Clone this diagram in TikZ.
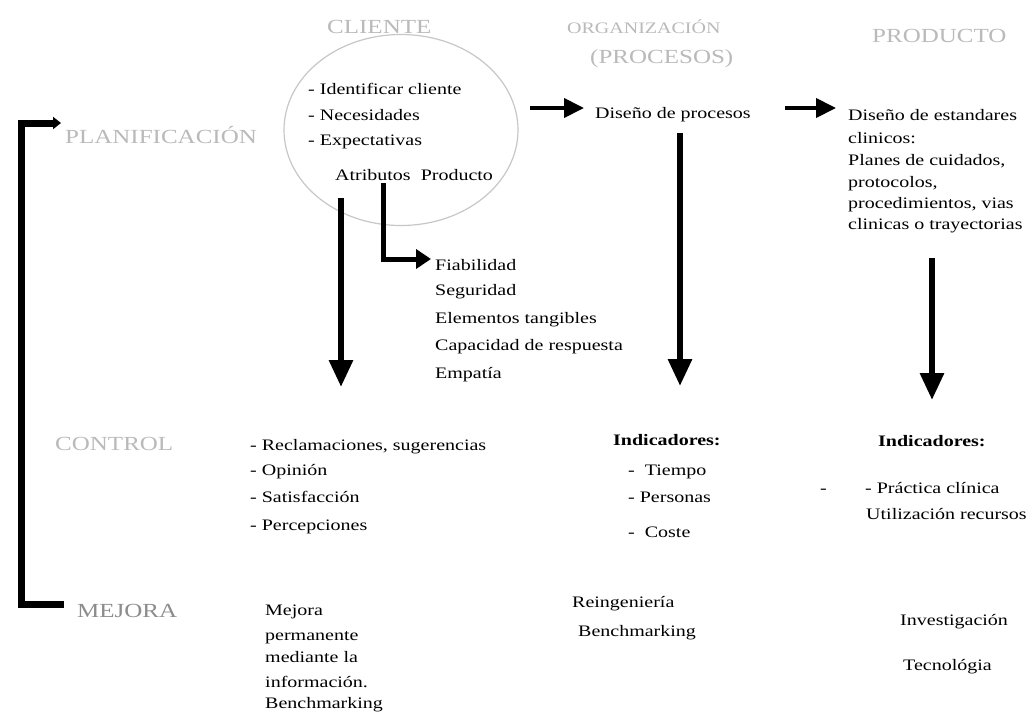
\documentclass[tikz,border=0pt]{standalone}
\usepackage{fontspec}
\setmainfont{Liberation Serif}[FakeStretch=1.25]
\usetikzlibrary{arrows.meta,shapes.geometric}
\tikzset{
  body/.style={anchor=base west, inner sep=0pt, font=\fontsize{16}{19}\selectfont, text=black},
  ttl/.style={anchor=base west, inner sep=0pt, font=\fontsize{20}{24}\selectfont, text=black!27},
  ttlsmall/.style={anchor=base west, inner sep=0pt, font=\fontsize{16}{19}\selectfont, text=black!27},
  bigarrow/.style={line width=6pt, -{Triangle[width=23pt,length=27pt]}},
  midarrow/.style={line width=5pt, -{Triangle[width=19pt,length=15pt]}},
  smallarrow/.style={line width=4pt, -{Triangle[width=19pt,length=20pt]}},
  bracket/.style={line width=7pt, line join=miter, -{Triangle[width=12pt,length=8pt]}},
}
\begin{document}
\begin{tikzpicture}[x=1pt,y=-1pt]
\fill[white] (0,0) rectangle (1036,713);
\useasboundingbox (0,0) rectangle (1036,713);

% ---- titles ----
\node[ttl] (tcli) at (327,33) {CLIENTE};
\node[ttlsmall] (torg) at (567,33) {ORGANIZACIÓN};
\node[ttl] (tproc) at (590,63) {(PROCESOS)};
\node[ttl] (tprod) at (872,42) {PRODUCTO};
\node[ttl] (tplan) at (65,143) {PLANIFICACIÓN};
\node[ttl] (tcon) at (55,450) {CONTROL};
\node[ttl, text=black!45] (tmej) at (77,617) {MEJORA};

% ---- cliente ellipse ----
\node[ellipse, draw=black!22, line width=1.2pt, minimum width=234pt, minimum height=191pt, inner sep=0pt] (cli) at (401,130) {};
\node[body] (c1) at (308,94) {- Identificar cliente};
\node[body] (c2) at (308,120) {- Necesidades};
\node[body] (c3) at (308,145) {- Expectativas};
\node[body] (c4) at (335,180) {Atributos\ \ Producto};

% ---- atributos list ----
\node[body] (f1) at (435,270) {Fiabilidad};
\node[body] (f2) at (435,295) {Seguridad};
\node[body] (f3) at (435,323) {Elementos tangibles};
\node[body] (f4) at (435,350) {Capacidad de respuesta};
\node[body] (f5) at (435,378) {Empatía};

% ---- procesos / producto ----
\node[body] (proc) at (595,118) {Diseño de procesos};
\node[body] (e1) at (848,120) {Diseño de estandares};
\node[body] (e2) at (848,143) {clinicos:};
\node[body] (e3) at (848,165) {Planes de cuidados,};
\node[body] (e4) at (848,187) {protocolos,};
\node[body] (e5) at (848,208) {procedimientos, vias};
\node[body] (e6) at (848,229) {clinicas o trayectorias};

% ---- control ----
\node[body] (k1) at (250,450) {- Reclamaciones, sugerencias};
\node[body] (k2) at (250,475) {- Opinión};
\node[body] (k3) at (250,502) {- Satisfacción};
\node[body] (k4) at (250,530) {- Percepciones};

\node[body, font=\fontsize{16}{19}\selectfont\bfseries] (i1) at (613,445) {Indicadores:};
\node[body] (i2) at (628,475) {-\ \ Tiempo};
\node[body] (i3) at (628,502) {- Personas};
\node[body] (i4) at (628,537) {-\ \ Coste};

\node[body, font=\fontsize{16}{19}\selectfont\bfseries] (j1) at (878,446) {Indicadores:};
\node[body] (j0) at (820,493) {-};
\node[body] (j2) at (865,493) {- Práctica clínica};
\node[body] (j3) at (866,519) {Utilización recursos};

% ---- mejora ----
\node[body] (m1) at (265,615) {Mejora};
\node[body] (m2) at (265,640) {permanente};
\node[body] (m3) at (265,662) {mediante la};
\node[body] (m4) at (265,687) {información.};
\node[body] (m5) at (265,708) {Benchmarking};

\node[body] (r1) at (572,607) {Reingeniería};
\node[body] (r2) at (578,636) {Benchmarking};

\node[body] (p1) at (900,625) {Investigación};
\node[body] (p2) at (903,670) {Tecnológia};

% ---- connector end points ----
\coordinate (a1s) at (341,198);
\coordinate (a1e) at (341,387);
\coordinate (a2s) at (383,183);
\coordinate (a2e) at (431,259);
\coordinate (b1s) at (530,108);
\coordinate (b1e) at (584,108);
\coordinate (b2s) at (785,108);
\coordinate (b2e) at (836,108);
\coordinate (c1s) at (680,133);
\coordinate (c1e) at (680,386);
\coordinate (d1s) at (932,258);
\coordinate (d1e) at (932,400);
\coordinate (lbot) at (64,604);
\coordinate (ltop) at (61,123);

% ---- connectors ----
\draw[bigarrow] (a1s) -- (a1e);
\draw[midarrow] (a2s) |- (a2e);
\draw[smallarrow] (b1s) -- (b1e);
\draw[smallarrow] (b2s) -- (b2e);
\draw[bigarrow] (c1s) -- (c1e);
\draw[bigarrow] (d1s) -- (d1e);
\draw[bracket] (lbot) -| (21,123) -- (ltop);
\end{tikzpicture}
\end{document}
